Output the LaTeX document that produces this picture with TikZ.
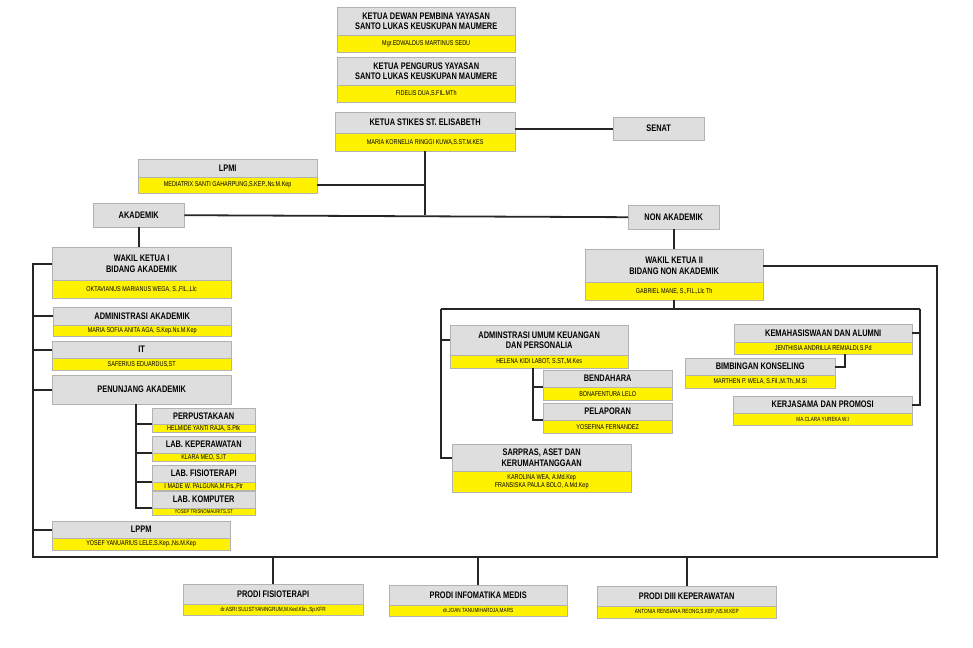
\documentclass[tikz,border=0pt]{standalone}
\usepackage{fontspec}
\setmainfont[FakeStretch=0.78]{Liberation Sans}
\usepackage{tikz}
\usepackage{xcolor}
\definecolor{boxgray}{HTML}{DEDEDE}
\definecolor{boxyellow}{HTML}{FFF200}
\tikzset{
  tbox/.style={draw=gray!60, fill=boxgray, inner sep=0pt, align=center, font=\bfseries\fontsize{9.5}{10.5}\selectfont},
  pbox/.style={draw=gray!60, fill=boxyellow, inner sep=0pt, align=center, font=\fontsize{7}{8}\selectfont},
  link/.style={line width=1.8pt, black!85}
}
% title part and name part of one unit
\newcommand{\orgunit}[8]{%
  \node[tbox, anchor=north west, minimum width={(#4-#2)*1pt}, minimum height={(#5-#3)*1pt}] (#1) at (#2,#3) {#7};
  \node[pbox, anchor=north west, minimum width={(#4-#2)*1pt}, minimum height={(#6-#5)*1pt}] (#1-p) at (#2,#5) {#8};}
\begin{document}
\begin{tikzpicture}[x=1pt, y=-1pt]
\useasboundingbox (0,0) rectangle (973,647);

\orgunit{dewan}{337}{7}{515}{35}{52}{KETUA DEWAN PEMBINA YAYASAN\\SANTO LUKAS KEUSKUPAN MAUMERE}{Mgr.EDWALDUS MARTINUS SEDU}
\orgunit{pengurus}{337}{57}{515}{85}{102}{KETUA PENGURUS YAYASAN\\SANTO LUKAS KEUSKUPAN MAUMERE}{FIDELIS DUA,S.FIL.MTh}
\orgunit{stikes}{335}{112}{515}{133}{151}{KETUA STIKES ST. ELISABETH}{MARIA KORNELIA RINGGI KUWA,S.ST.M.KES}
\node[tbox, anchor=north west, minimum width=91pt, minimum height=23pt] (senat) at (613,117) {SENAT};
\orgunit{lpmi}{138}{159}{317}{177}{193}{LPMI}{MEDIATRIX SANTI GAHARPUNG,S.KEP.,Ns.M.Kep}
\node[tbox, anchor=north west, minimum width=91pt, minimum height=24pt] (akad) at (93,203) {AKADEMIK};
\node[tbox, anchor=north west, minimum width=91pt, minimum height=24pt] (nonakad) at (628,205) {NON AKADEMIK};

\orgunit{wk1}{52}{247}{231}{280}{298}{WAKIL KETUA I\\BIDANG AKADEMIK}{OKTAVIANUS MARIANUS WEGA, S.,FIL.,Llc}
\orgunit{adm}{53}{307}{231}{325}{336}{ADMINISTRASI AKADEMIK}{MARIA SOFIA ANITA AGA, S.Kep.Ns.M.Kep}
\orgunit{it}{52}{341}{231}{358}{370}{IT}{SAFERIUS EDUARDUS,ST}
\node[tbox, anchor=north west, minimum width=179pt, minimum height=29pt] (pen) at (52,375) {PENUNJANG AKADEMIK};
\orgunit{perp}{152}{408}{255}{424}{432}{PERPUSTAKAAN}{HELMIDE YANTI RAJA, S.Ptk}
\orgunit{lkep}{152}{436}{255}{453}{461}{LAB. KEPERAWATAN}{KLARA MEO, S.IT}
\orgunit{lfis}{152}{465}{255}{482}{490}{LAB. FISIOTERAPI}{I MADE W. PALGUNA,M.Fis.,Ftr}
\orgunit{lkom}{152}{491}{255}{508}{515}{LAB. KOMPUTER}{\fontsize{5.5}{6}\selectfont YOSEP TRISNOMAURITS,ST}
\orgunit{lppm}{52}{521}{230}{538}{550}{LPPM}{YOSEF YANUARIUS LELE,S.Kep.,Ns.M.Kep}

\orgunit{wk2}{585}{249}{763}{282}{300}{WAKIL KETUA II\\BIDANG NON AKADEMIK}{GABRIEL MANE, S.,FIL.,Llc Th}
\orgunit{aum}{450}{325}{628}{355}{368}{ADMINSTRASI UMUM KEUANGAN\\DAN PERSONALIA}{HELENA KIDI LABOT, S.ST.,M.Kes}
\orgunit{ben}{543}{370}{672}{387}{400}{BENDAHARA}{BONAFENTURA LELO}
\orgunit{pel}{543}{403}{672}{420}{433}{PELAPORAN}{YOSEFINA FERNANDEZ}
\orgunit{sar}{452}{444}{631}{471}{492}{SARPRAS, ASET DAN\\KERUMAHTANGGAAN}{KAROLINA WEA, A.Md.Kep\\FRANSISKA PAULA BOLO, A.Md.Kep}
\orgunit{kem}{734}{324}{912}{342}{354}{KEMAHASISWAAN DAN ALUMNI}{JENTHISIA ANDRILLA REMIALDI,S.Pd}
\orgunit{bk}{685}{358}{835}{375}{388}{BIMBINGAN KONSELING}{MARTHEN P. WELA, S.Fil.,M.Th.,M.Si}
\orgunit{ker}{733}{396}{912}{413}{425}{KERJASAMA DAN PROMOSI}{\fontsize{6}{7}\selectfont MA.CLARA YUREKA W.I}

\orgunit{pfis}{183}{584}{363}{604}{615}{PRODI FISIOTERAPI}{\fontsize{6}{7}\selectfont dr.ASRI SULISTYANINGRUM,M.Ked.Klin.,Sp.KFR}
\orgunit{pinf}{389}{585}{567}{605}{616}{PRODI INFOMATIKA MEDIS}{\fontsize{6}{7}\selectfont dr.JOAN TANUMIHARDJA,MARS}
\orgunit{pkep}{597}{586}{776}{606}{618}{PRODI DIII KEPERAWATAN}{\fontsize{6}{7}\selectfont ANTONIA RENSIANA REONG,S.KEP.,NS.M.KEP}

\coordinate (fl) at (33,557);
\coordinate (fr) at (937,557);
\coordinate (pj) at (136,404);
\coordinate (nb) at (673,309);
\coordinate (nl) at (441,309);
\coordinate (nr) at (920,309);
\coordinate (kb) at (845,354);
\coordinate (ab) at (533,368);

% top spine
\draw[link] (stikes-p.south) -- (stikes-p.south |- akad.east);
\draw[link] (stikes.east |- senat.west) -- (senat.west);
\draw[link] (lpmi-p.east) -- (lpmi-p.east -| stikes-p.south);
\draw[link] (akad.east) -- (nonakad.west);
\draw[link] (akad.south) -- (akad.south |- wk1.north);
\draw[link] (nonakad.south) -- (nonakad.south |- wk2.north);

% frame and prodi
\draw[link] (wk1.west) -| (fl) -- (fr) |- (wk2.east);
\draw[link] (adm.west) -- (adm.west -| fl);
\draw[link] (it.west) -- (it.west -| fl);
\draw[link] (pen.west) -- (pen.west -| fl);
\draw[link] (lppm.west) -- (lppm.west -| fl);
\draw[link] (pfis.north) -- (pfis.north |- fl);
\draw[link] (pinf.north) -- (pinf.north |- fl);
\draw[link] (pkep.north) -- (pkep.north |- fl);

% penunjang
\draw[link] (pj) |- (lkom-p.north west);
\draw[link] (perp-p.north west) -- (perp-p.north west -| pj);
\draw[link] (lkep-p.north west) -- (lkep-p.north west -| pj);
\draw[link] (lfis-p.north west) -- (lfis-p.north west -| pj);

% non akademik
\draw[link] (wk2-p.south) -- (wk2-p.south |- nb);
\draw[link] (nl) -- (nr);
\draw[link] (nl) |- (sar.west);
\draw[link] (aum.west) -- (aum.west -| nl);
\draw[link] (ab) |- (pel-p.north west);
\draw[link] (ben-p.north west) -- (ben-p.north west -| ab);
\draw[link] (nr) |- (ker.east);
\draw[link] (kem.east) -- (kem.east -| nr);
\draw[link] (kb) |- (bk.east);
\end{tikzpicture}
\end{document}
